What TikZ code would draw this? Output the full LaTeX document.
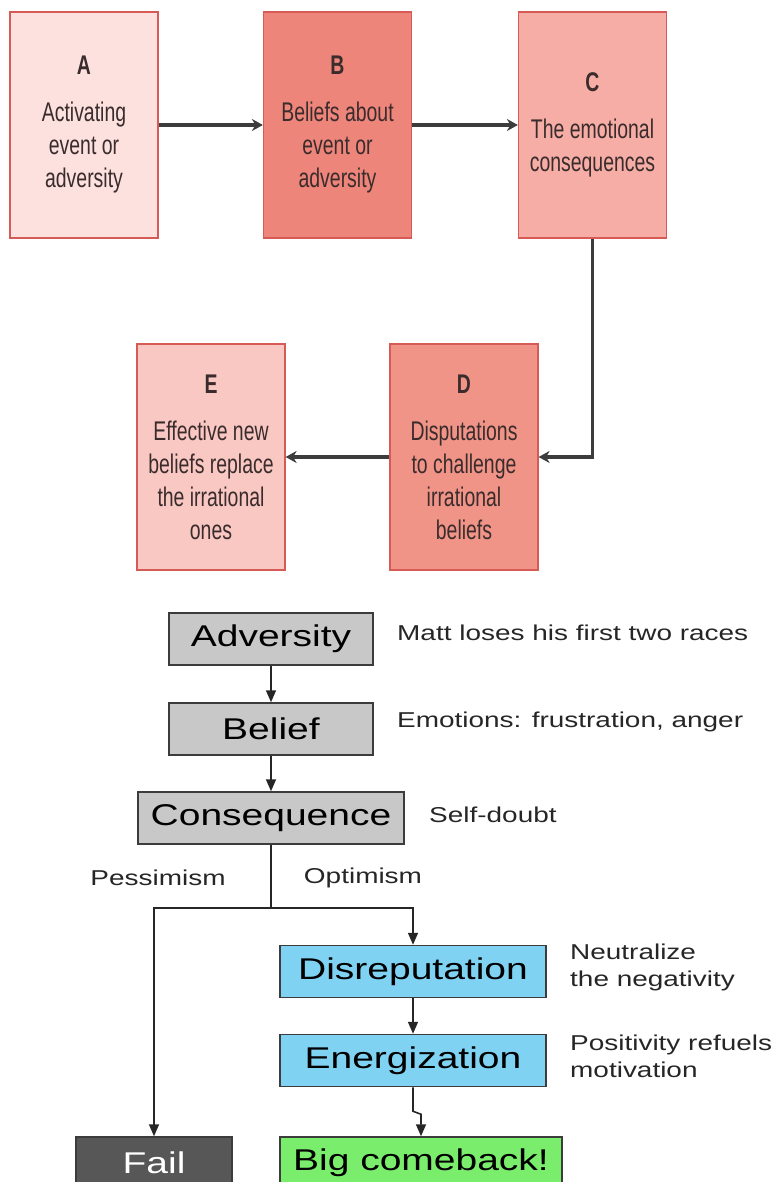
\documentclass[tikz,border=0pt]{standalone}
\usepackage{fontspec}
\setmainfont{Liberation Sans}
\newfontfamily\narrowfont[FakeStretch=0.72,BoldFont={Liberation Sans Bold}]{Liberation Sans}
\newfontfamily\widefont[FakeStretch=1.3]{Liberation Sans}
\usetikzlibrary{arrows.meta}
\definecolor{edgered}{HTML}{D65A55}
\definecolor{fillA}{HTML}{FCE1DE}
\definecolor{fillB}{HTML}{EE857A}
\definecolor{fillC}{HTML}{F5ADA5}
\definecolor{fillD}{HTML}{F19488}
\definecolor{fillE}{HTML}{F9C8C3}
\definecolor{inkdark}{HTML}{3A2C2C}
\definecolor{linedark}{HTML}{3C3C3C}
\definecolor{greybox}{HTML}{C8C8C8}
\definecolor{bluebox}{HTML}{80D2F3}
\definecolor{greenbox}{HTML}{7AEE6C}
\definecolor{failbox}{HTML}{575757}

\begin{document}
\begin{tikzpicture}[x=1pt,y=-1pt,
    abcbox/.style={draw=edgered,line width=1.2pt,minimum width=148pt,
        minimum height=226pt,inner sep=0pt,align=center,text=inkdark,
        font=\narrowfont\fontsize{27}{33}\selectfont},
    flowbox/.style={draw=linedark,line width=1.5pt,minimum height=52pt,
        inner sep=0pt,font=\widefont\fontsize{30}{35}\selectfont},
    note/.style={align=left,inner sep=0pt,text=black!85,
        font=\widefont\fontsize{21.5}{27}\selectfont},
    tarrow/.style={draw=linedark,line width=3.2pt,
        -{Stealth[length=11pt,width=12pt]}},
    barrow/.style={draw=black!85,line width=1.6pt,
        -{Triangle[length=12pt,width=10pt]}}]
    \useasboundingbox (0,0) rectangle (773,1182);
    % ABCDE model
    \node[abcbox,fill=fillA] (a) at (84,125)
        {\textbf{A}\\[14pt]Activating\\event or\\adversity};
    \node[abcbox,fill=fillB] (b) at (337.5,125)
        {\textbf{B}\\[14pt]Beliefs about\\event or\\adversity};
    \node[abcbox,fill=fillC] (c) at (592.5,125)
        {\textbf{C}\\[14pt]The emotional\\consequences};
    \node[abcbox,fill=fillD] (d) at (464,457)
        {\textbf{D}\\[14pt]Disputations\\to challenge\\irrational\\beliefs};
    \node[abcbox,fill=fillE] (e) at (211,457)
        {\textbf{E}\\[14pt]Effective new\\beliefs replace\\the irrational\\ones};
    \draw[tarrow] (a.east) -- (b.west);
    \draw[tarrow] (b.east) -- (c.west);
    \draw[tarrow] (c.south) |- (d.east);
    \draw[tarrow] (d.west) -- (e.east);
    % Matt's example
    \node[flowbox,fill=greybox,minimum width=204pt] (adv) at (271,639) {Adversity};
    \node[flowbox,fill=greybox,minimum width=204pt] (bel) at (271,729) {Belief};
    \node[flowbox,fill=greybox,minimum width=266pt] (cons) at (271,818) {Consequence};
    \node[flowbox,fill=bluebox,minimum width=266pt] (disrep) at (413,971.5) {Disreputation};
    \node[flowbox,fill=bluebox,minimum width=266pt] (energ) at (413,1060.5) {Energization};
    \node[flowbox,fill=greenbox,minimum width=282pt] (big) at (421,1163) {Big comeback!};
    \node[flowbox,fill=failbox,text=white,minimum width=156pt] (fail) at (154,1163) {Fail};
    \node[note,anchor=west] (n1) at (397,633) {Matt loses his first two races};
    \node[note,anchor=west] (n2) at (397,722) {Emotions: frustration, anger};
    \node[note,anchor=west] (n3) at (429,815) {Self-doubt};
    \node[note] (pess) at (158,878) {Pessimism};
    \node[note] (opt) at (363,878) {Optimism};
    \node[note,anchor=west] (n4) at (570,967) {Neutralize\\the negativity};
    \node[note,anchor=west] (n5) at (570,1056) {Positivity refuels\\motivation};
    \coordinate (split) at (271,908);
    \draw[barrow] (adv.south) -- (bel.north);
    \draw[barrow] (bel.south) -- (cons.north);
    \draw[draw=black!85,line width=1.6pt] (cons.south) -- (split);
    \draw[barrow] (split) -| (fail.north);
    \draw[barrow] (split) -| (disrep.north);
    \draw[barrow] (disrep.south) -- (energ.north);
    \draw[barrow] (energ.south) -- ++(0,24) -- ++(8,3) -- (big.north);
\end{tikzpicture}
\end{document}
